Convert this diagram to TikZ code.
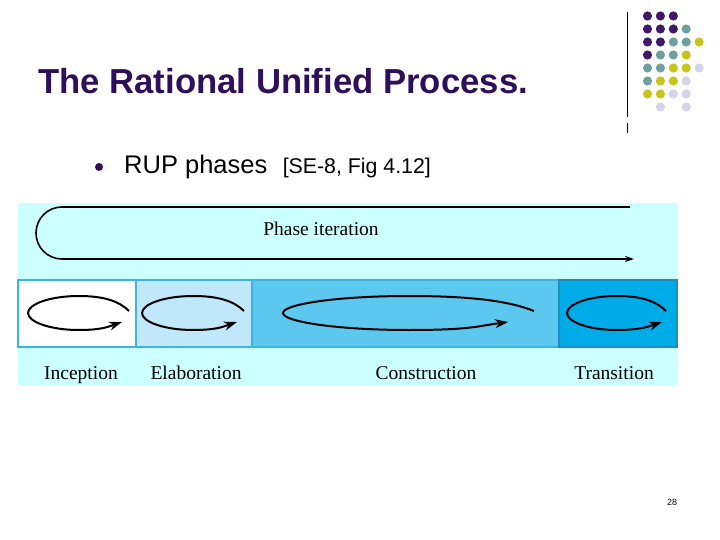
\documentclass[tikz,border=0pt]{standalone}
\usepackage{fontspec}
\setmainfont{Liberation Serif}
\newfontfamily\arialfont{Liberation Sans}
\usetikzlibrary{arrows.meta}

\definecolor{titlepurple}{RGB}{45,15,90}
\definecolor{dotP}{RGB}{64,24,104}
\definecolor{dotT}{RGB}{110,160,160}
\definecolor{dotY}{RGB}{200,196,30}
\definecolor{dotL}{RGB}{212,212,232}
\definecolor{bgcyan}{RGB}{204,255,255}
\definecolor{boxblue}{RGB}{60,180,225}
\definecolor{elabfill}{RGB}{192,232,250}
\definecolor{consfill}{RGB}{92,200,240}
\definecolor{transfill}{RGB}{0,172,232}
\definecolor{transline}{RGB}{30,140,190}

\begin{document}
\begin{tikzpicture}[x=1pt, y=-1pt,
    phaselabel/.style={anchor=base, inner sep=0, font=\fontsize{19.5}{22}\selectfont},
    phasebox/.style={draw=boxblue, line width=2pt},
    loopline/.style={line width=2pt, -{Stealth[length=13pt,width=9pt]}},
    iterline/.style={line width=1.6pt, -{Stealth[length=9pt,width=6pt]}}]
    \useasboundingbox (0,0) rectangle (720,540);

    % Titulo
    \node[anchor=base west, inner sep=0, text=titlepurple,
          font=\arialfont\bfseries\fontsize{34.7}{40}\selectfont] (title) at (38,94) {The Rational Unified Process.};

    % Puntos de la esquina
    \draw[line width=1.3pt] (627.5,12) -- (627.5,117);
    \draw[line width=1.3pt] (627.5,123) -- (627.5,133);
    \foreach \r/\list in {0/{P,P,P}, 1/{P,P,P,T}, 2/{P,P,T,T,Y}, 3/{P,T,T,Y},
                          4/{T,T,Y,Y,L}, 5/{T,Y,Y,L}, 6/{Y,Y,L,L}}{
        \foreach \c [count=\i from 0] in \list
            \fill[dot\c] ({647.5+12.9*\i},{16+13*\r}) circle (4.6);
    }
    \fill[dotL] ({647.5+12.9},107) circle (4.6);
    \fill[dotL] ({647.5+3*12.9},107) circle (4.6);

    % Vineta
    \node[circle, fill=titlepurple, inner sep=0, minimum size=8] (bullet) at (99,167) {};
    \node[anchor=base west, inner sep=0, font=\arialfont\fontsize{25.5}{30}\selectfont] (item) at (124,174) {RUP phases};
    \node[anchor=base east, inner sep=0, font=\arialfont\fontsize{21.3}{25}\selectfont] (ref) at (431,174) {[SE-8, Fig 4.12]};

    % Fondo de la figura
    \fill[bgcyan] (18,203) rectangle (678,385);

    % Iteracion de fase
    \draw[iterline] (630,207) -- (62,207) .. controls (47.6,207) and (36,218.6) .. (36,233)
        .. controls (36,247.4) and (47.6,259) .. (62,259) -- (634,259);
    \node[phaselabel] (iter) at (321,236) {Phase iteration};

    % Fases
    \draw[phasebox, fill=white] (18,280) rectangle (136,347);
    \draw[phasebox, fill=elabfill] (136,280) rectangle (252,347);
    \draw[phasebox, fill=consfill] (252,280) rectangle (559,347);
    \draw[phasebox, draw=transline, fill=transfill] (559,280) rectangle (677,347);

    % Ciclos
    \foreach \l/\r/\xa in {28/129/122, 142/244/237, 283/534/508, 567/666/662}{
        \draw[loopline] (\r,311) .. controls ({\r-0.1*(\r-\l)},301) and ({(\l+\r)/2+0.25*(\r-\l)},296) .. ({(\l+\r)/2},296)
            .. controls ({(\l+\r)/2-0.276*(\r-\l)},296) and (\l,304) .. (\l,313)
            .. controls (\l,322) and ({(\l+\r)/2-0.276*(\r-\l)},330) .. ({(\l+\r)/2},330)
            .. controls ({(\l+\r)/2+0.25*(\r-\l)},330) and ({\xa-0.12*(\r-\l)},326) .. (\xa,322);
    }

    \node[phaselabel] (incep) at (81,379) {Inception};
    \node[phaselabel] (elab) at (196,379) {Elaboration};
    \node[phaselabel] (cons) at (426,379) {Construction};
    \node[phaselabel] (trans) at (614,379) {Transition};

    % Numero de pagina
    \node[inner sep=0, font=\arialfont\fontsize{9}{10}\selectfont] (page) at (672,502) {28};
\end{tikzpicture}
\end{document}
